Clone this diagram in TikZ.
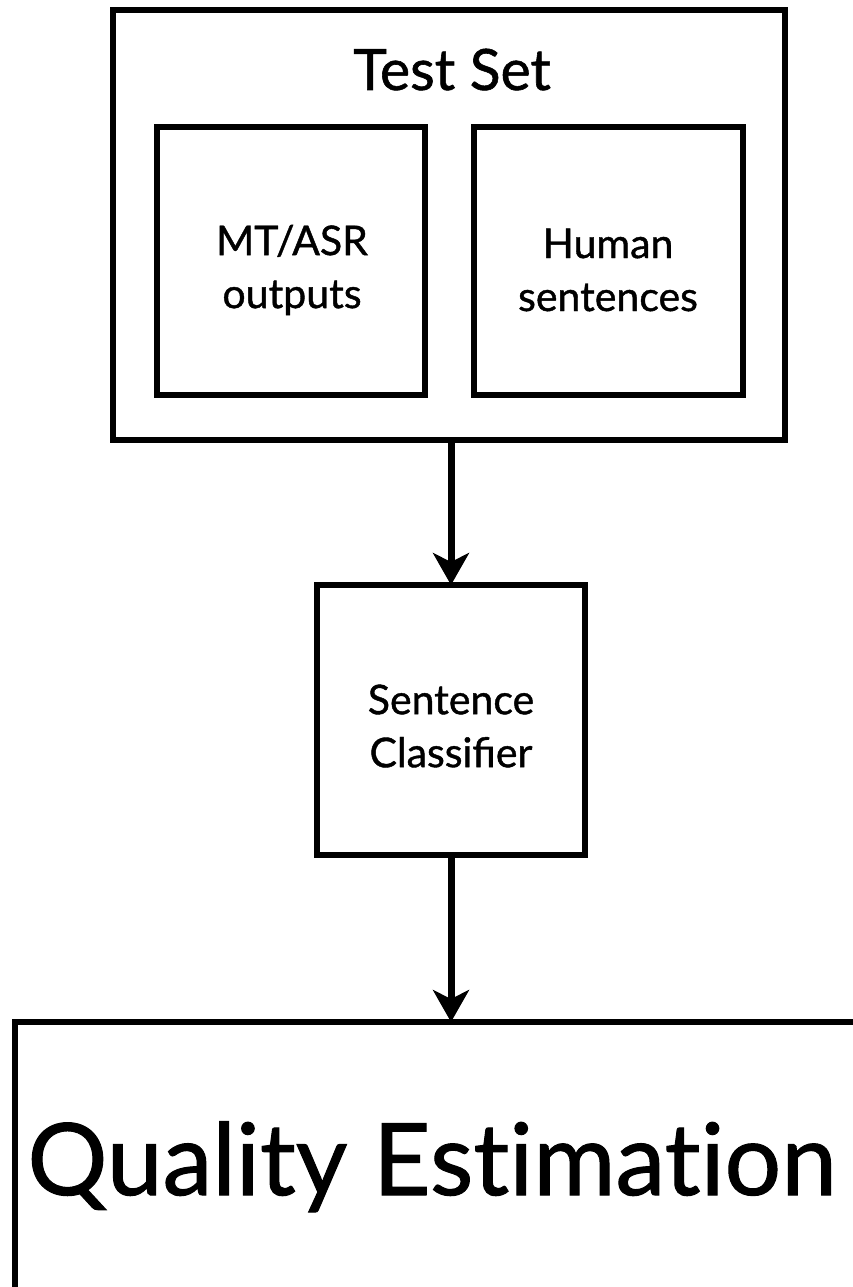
\documentclass[tikz,border=0pt]{standalone}
\usepackage{fontspec}
\setmainfont{Lato}[FakeBold=1]
\newfontfamily\qefont{Lato}[Ligatures=NoCommon,FakeBold=1]
\usetikzlibrary{arrows.meta}
\begin{document}
\begin{tikzpicture}[x=1pt,y=-1pt,
  box/.style={draw, line width=5.5pt, inner sep=0pt, outer sep=0pt},
  small/.style={font=\fontsize{41}{53}\selectfont, align=center, inner sep=0pt},
  conn/.style={line width=7pt, -{Stealth[length=32pt,width=36pt,inset=9pt]}}
]
\clip (0,0) rectangle (853,1287);
\useasboundingbox (0,0) rectangle (853,1287);
% Test set container
\node[box, minimum width=672pt, minimum height=430pt] (ts) at (449,225) {};
\node[font=\fontsize{57}{60}\selectfont, anchor=base] (tslabel) at (452,90) {Test Set};
\node[box, minimum width=268pt, minimum height=268pt] (mt) at (291,261) {};
\node[small] (mtlabel) at (292,270) {MT/ASR\\outputs};
\node[box, minimum width=269pt, minimum height=268pt] (hu) at (608.5,261) {};
\node[small] (hulabel) at (608,270) {Human\\sentences};
% classifier
\node[box, minimum width=268pt, minimum height=270pt] (sc) at (451,720) {};
\node[small] (sclabel) at (451,726) {Sentence\\Classifier};
% quality estimation
\node[box, minimum width=870pt, minimum height=300pt] (qe) at (450,1172) {};
\node[font=\qefont\fontsize{100}{110}\selectfont, anchor=base] (qetext) at (432,1195) {Quality Estimation};
% connectors
\draw[conn] (ts.south -| sc.north) -- (sc.north);
\draw[conn] (sc.south) -- (sc.south |- qe.north);
\end{tikzpicture}
\end{document}
